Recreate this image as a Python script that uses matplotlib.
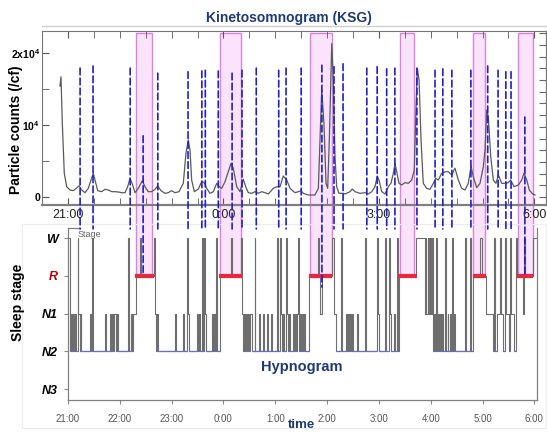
import matplotlib
matplotlib.use("Agg")
import matplotlib.pyplot as plt
from matplotlib.patches import Rectangle, ConnectionPatch
from matplotlib.lines import Line2D
from matplotlib.transforms import blended_transform_factory
from matplotlib.ticker import FixedLocator

plt.rcParams['font.family'] = ['Liberation Sans', 'DejaVu Sans']
plt.rcParams['mathtext.default'] = 'regular'

# ---- data (time in minutes after 21:00) ----
ksg_min = [-9.3, -8.1, -6.6, -4.3, -1.5, 2.3, 6.1, 10.1, 12.7, 15.9, 19.7, 23.5, 27.4, 29.3,
           31.3, 34.4, 39.0, 42.8, 46.7, 50.6, 54.4, 58.2, 62.2, 66.0, 69.1, 71.8, 74.5, 77.6,
           81.4, 86.0, 89.2, 93.0, 96.9, 100.7, 103.9, 107.7, 112.3, 116.1, 120.1, 123.9, 128.5,
           133.5, 136.6, 139.3, 141.3, 143.2, 146.3, 150.9, 154.8, 157.8, 160.6, 164.4, 168.3,
           172.2, 174.9, 178.0, 181.8, 185.6, 188.8, 191.4, 195.4, 199.2, 203.0, 205.8, 208.8,
           212.7, 216.5, 220.4, 224.3, 228.1, 232.0, 237.7, 241.7, 245.5, 249.3, 253.3, 257.1,
           262.9, 266.7, 269.8, 272.5, 278.3, 286.0, 289.9, 291.8, 293.8, 296.4, 298.8, 300.7,
           302.6, 305.4, 307.2, 309.2, 311.1, 313.8, 318.8, 320.8, 326.6, 329.2, 332.3, 338.1,
           343.9, 347.7, 351.7, 355.5, 358.2, 360.1, 363.3, 367.1, 370.9, 374.0, 376.7, 378.7,
           380.6, 383.3, 386.4, 390.2, 394.1, 398.0, 401.0, 403.0, 404.5, 406.5, 408.8, 411.4,
           415.4, 419.2, 423.0, 425.8, 428.8, 432.7, 436.6, 440.4, 444.3, 448.1, 452.0, 455.9,
           459.7, 463.5, 466.7, 469.3, 473.3, 477.1, 480.9, 482.9, 484.9, 486.7, 489.5, 492.5,
           495.6, 498.3, 502.2, 506.0, 509.9, 512.6, 516.5, 521.5, 525.4, 528.0, 531.2, 534.2,
           538.1, 540.8]
ksg_counts = [15400, 16700, 10300, 3300, 1430, 970, 880, 1250, 1570, 970, 600, 1200, 2640, 3290,
              2360, 880, 740, 1070, 970, 740, 740, 700, 600, 600, 1430, 2600, 1800, 600,
              1200, 2260, 1430, 740, 740, 1070, 1530, 880, 510, 600, 880, 600, 740,
              1900, 6070, 7920, 6530, 2360, 740, 1100, 2130, 2000, 1200, 510, 740,
              1900, 1430, 1200, 2130, 3510, 4680, 4000, 1430, 740, 2460, 1430, 600,
              510, 740, 510, 740, 600, 420, 1200, 1430, 1430, 2920, 2360, 1200,
              600, 740, 880, 510, 280, 280, 1200, 7920, 14900, 10200, 1900, 1200,
              7920, 21300, 16250, 5600, 1430, 510, 510, 420, 740, 1110, 740, 510,
              600, 420, 740, 1430, 2920, 2360, 740, 420, 1430, 1900, 3290, 4680,
              3510, 1900, 1670, 2000, 1900, 2360, 3750, 12540, 17870, 16250, 7920, 1900,
              1200, 1070, 1900, 2600, 2360, 3290, 3510, 3510, 3060, 4000, 2360, 1200,
              970, 1900, 4300, 2800, 1300, 1900, 4210, 6530, 12080, 11150, 5600, 2360,
              1900, 3060, 1900, 1900, 2000, 2360, 1430, 1670, 2360, 3290, 2360, 970,
              420, 280]

arousal_min = [14, 29, 72, 87, 104, 139, 155, 159, 174, 190, 201.5, 218, 244, 252.5, 270,
               294, 308, 318.5, 346, 358, 369, 378.5, 404, 425, 434, 444.5, 466.5, 486,
               498, 507, 513, 529]
arousal_top = [17900, 18200, 17900, 8500, 17200, 17400, 17500, 17600, 17500, 17200, 17600,
               17900, 17600, 17900, 17900, 18300, 18100, 18500, 17900, 18100, 17800, 17900,
               17900, 17600, 17800, 17600, 17600, 18200, 17600, 17400, 17400, 11100]
arousal_end = [4.24, 4.24, 4.24, 3.0, 4.24, 4.24, 4.24, 4.24, 4.24, 4.24, 4.24, 4.24, 4.24,
               4.24, 4.24, 2.7, 4.24, 4.24, 4.24, 4.24, 4.24, 4.24, 4.24, 4.24, 4.24, 4.24,
               4.24, 4.24, 4.24, 4.24, 4.24, 3.0]

shade_start = [79, 176, 280, 384, 469, 521]
shade_end = [97.5, 200, 305.5, 401, 483, 538.5]
rem_start = [77.5, 175, 279, 382, 469, 520]
rem_end = [99.5, 201.5, 305.5, 404, 484, 538.5]

hyp_min = [0, 2, 3, 4.5, 6, 7, 8, 9, 11, 12, 13.5, 14.5, 15.5, 25.5, 26.5, 28, 29, 43, 44,
           48.5, 50, 51, 52, 53, 55, 57, 58, 69.5, 70.5, 73, 74, 75.5, 79, 83.5, 84.5, 99.5,
           101, 102, 103, 104, 124, 125, 133, 134, 138, 139.5, 140.5, 149.5, 150.5, 151.5,
           153, 155, 156, 157.5, 158.5, 160, 167, 168, 169, 170, 171.5, 172.5, 176, 189, 190,
           200, 201.5, 202.5, 204, 205, 206, 207, 208.5, 209.5, 211, 212.5, 216, 217, 221,
           222, 226, 227, 230.5, 231.5, 235.5, 236.5, 242.5, 243.5, 245.5, 246.5, 248, 249.5,
           250.5, 252.5, 253.5, 254.5, 256, 257, 260.5, 261.5, 263, 264, 265, 266.5, 267.5,
           268.5, 270, 271, 272, 273.5, 274.5, 279.5, 290, 291, 292, 294, 305.5, 307.5, 310.5,
           316, 317.5, 322, 323, 324, 325.5, 326.5, 327.5, 329, 330, 334.5, 336, 344, 345, 358,
           359, 360.5, 367, 368, 371.5, 373, 374, 377.5, 378.5, 381, 382, 383, 403, 413, 414,
           415, 417, 418, 419, 420, 421.5, 422.5, 423.5, 425, 426, 427, 428.5, 429.5, 431,
           432, 433, 434, 436.5, 437.5, 439.5, 440.5, 442, 443, 444.5, 445.5, 446.5, 448,
           459.5, 461, 465.5, 466.5, 469, 477.5, 479.5, 484, 492, 493, 494.5, 496.5, 500,
           501.5, 503.5, 506, 507, 510.5, 512, 513, 516.5, 519, 520, 527, 528, 529, 538.5]
hyp_stage = ['W', 'N2', 'N1', 'N2', 'N1', 'N2', 'N1', 'N2', 'W', 'N1', 'N2', 'N1', 'N2', 'N1',
             'N2', 'W', 'N2', 'N1', 'N2', 'N1', 'N2', 'N1', 'N2', 'N1', 'N2', 'N1', 'N2', 'W',
             'N2', 'N1', 'N2', 'N1', 'R', 'W', 'R', 'W', 'N1', 'N2', 'N1', 'N2', 'N1', 'N2',
             'N1', 'N2', 'W', 'N1', 'N2', 'N1', 'N2', 'N1', 'N2', 'W', 'N2', 'W', 'N1', 'N2',
             'N1', 'N2', 'N1', 'N2', 'W', 'N2', 'R', 'W', 'R', 'W', 'N1', 'N2', 'N1', 'N2',
             'N1', 'N2', 'N1', 'N2', 'N1', 'N2', 'W', 'N2', 'N1', 'N2', 'N1', 'N2', 'N1', 'N2',
             'N1', 'N2', 'W', 'N2', 'W', 'N1', 'N2', 'N1', 'N2', 'W', 'N1', 'N2', 'N1', 'N2',
             'N1', 'N2', 'N1', 'N2', 'N1', 'W', 'N2', 'N1', 'N2', 'N1', 'N2', 'N1', 'N2', 'R',
             'W', 'R', 'N1', 'R', 'W', 'N1', 'N2', 'W', 'N2', 'N1', 'N2', 'N1', 'N2', 'N1',
             'N2', 'N1', 'N2', 'N1', 'N2', 'W', 'N2', 'W', 'N1', 'N2', 'W', 'N2', 'W', 'N1',
             'N2', 'N1', 'N2', 'W', 'N2', 'R', 'W', 'N1', 'W', 'N1', 'W', 'N1', 'W', 'N1', 'W',
             'N2', 'N1', 'N2', 'W', 'N2', 'N1', 'N2', 'N1', 'N2', 'N1', 'N2', 'W', 'N2', 'N1',
             'N2', 'N1', 'N2', 'W', 'N2', 'N1', 'N2', 'W', 'N2', 'W', 'N2', 'R', 'W', 'R', 'N1',
             'N2', 'W', 'N2', 'N1', 'W', 'N1', 'N2', 'W', 'N1', 'N2', 'W', 'N1', 'N2', 'W', 'R',
             'N1', 'W', 'R', 'W']
hyp_end = 543
stage_names = ['N3', 'N2', 'N1', 'R', 'W']

top_ticks = [0, 180, 360, 540]
top_labels = ['21:00', '0:00', '3:00', '6:00']
bottom_ticks = [0, 60, 120, 180, 240, 300, 360, 420, 480, 540]
bottom_labels = ['21:00', '22:00', '23:00', '0:00', '1:00', '2:00', '3:00', '4:00', '5:00', '6:00']

W, H = 547, 432
navy = '#1f3b73'

fig = plt.figure(figsize=(W / 100, H / 100), dpi=100)


def px_box(x0, y0, x1, y1):
    return [x0 / W, 1 - y1 / H, (x1 - x0) / W, (y1 - y0) / H]


# ---- KSG panel ----
ax1 = fig.add_axes(px_box(42, 31, 546, 205))
ax1.set_facecolor('none')
ax1.plot(ksg_min, ksg_counts, color='#5a5a5a', lw=0.9)
ax1.set_xlim(-30.1, 553.5)
ax1.set_ylim(-1110, 23060)
ax1.xaxis.set_major_locator(FixedLocator(top_ticks))
ax1.set_xticklabels(top_labels)
ax1.xaxis.set_minor_locator(FixedLocator(list(range(-30, 560, 30))))
ax1.yaxis.set_major_locator(FixedLocator([0, 10000, 20000]))
ax1.set_yticklabels(['0', '10$^4$', '2x10$^4$'], fontweight='bold')
ax1.yaxis.set_minor_locator(FixedLocator([5000, 15000]))
ax1.tick_params(axis='x', which='both', direction='in', top=True, length=5, color='#555',
                labelsize=9, labelcolor='#222', pad=3)
ax1.tick_params(axis='y', which='both', direction='in', length=5, color='#555',
                labelsize=7.5, pad=1.5)
for s in ['top', 'left', 'right']:
    ax1.spines[s].set_color('#777')
    ax1.spines[s].set_linewidth(0.8)
ax1.spines['bottom'].set_color('#808080')
ax1.spines['bottom'].set_linewidth(1.6)
ax1r = ax1.secondary_yaxis('right')
ax1r.yaxis.set_major_locator(FixedLocator([i * 1625 for i in range(-1, 15)]))
ax1r.tick_params(direction='in', length=5, color='#666', labelright=False)
ax1r.spines['right'].set_color('#777')

# ---- Hypnogram panel ----
ax2 = fig.add_axes(px_box(68, 228, 537, 400))
ax2.set_facecolor('none')
lev = [stage_names.index(s) for s in hyp_stage]
t = hyp_min + [hyp_end]
lv = lev + [lev[-1]]
ax2.step(t, lv, where='post', color='#6e6e6e', lw=0.8)
n2 = stage_names.index('N2')
for i in range(len(lev)):
    if lev[i] == n2:
        ax2.hlines(n2, t[i], t[i + 1], color='#6b6be0', lw=0.9, zorder=3)
for s, e in zip(rem_start, rem_end):
    ax2.hlines(stage_names.index('R'), s, e, color='#e8283f', lw=3, zorder=4)
ax2.set_xlim(0, 543)
ax2.set_ylim(-0.29, 4.265)
ax2.set_xticks(bottom_ticks)
ax2.set_xticklabels(bottom_labels)
ax2.set_yticks(range(5))
ax2.set_yticklabels(stage_names, fontweight='bold', fontstyle='italic', fontsize=9)
for lab in ax2.get_yticklabels():
    lab.set_color('#c00000' if lab.get_text() == 'R' else 'black')
ax2.tick_params(axis='x', length=3, color='#888', labelsize=7, labelcolor='#555', pad=7)
ax2.tick_params(axis='y', length=3, color='#888', pad=4)
ax2.spines['top'].set_visible(False)
for s in ['left', 'bottom', 'right']:
    ax2.spines[s].set_color('#808080')
    ax2.spines[s].set_linewidth(0.9)
ax2.plot([0, 0.025], [1, 1], transform=ax2.transAxes, color='#808080', lw=0.9, clip_on=False)
ax2.text(0.02, 0.962, 'Stage', transform=ax2.transAxes, fontsize=6.5, color='#666',
         ha='left', va='center')

# ---- overlays spanning both panels ----
inv = fig.transFigure.inverted()
y_top = inv.transform(ax1.transData.transform((0, 22800)))[1]
y_bot = inv.transform(ax2.transData.transform((0, stage_names.index('R'))))[1]
blend = blended_transform_factory(ax1.transData, fig.transFigure)
for s, e in zip(shade_start, shade_end):
    fig.add_artist(Rectangle((s, y_bot), e - s, y_top - y_bot, transform=blend,
                             facecolor='#fbe3fb', edgecolor='#e07fe0', lw=1, zorder=-1))

for tm, tp, en in zip(arousal_min, arousal_top, arousal_end):
    con = ConnectionPatch(xyA=(tm, tp), coordsA=ax1.transData, xyB=(tm, en),
                          coordsB=ax2.transData, color='#1f1fd0', lw=1.2,
                          linestyle=(0, (4, 2)), zorder=3)
    fig.add_artist(con)

# ---- texts / frame ----
fig.add_artist(Line2D([42 / W, 1], [1 - 26 / H] * 2, transform=fig.transFigure,
                      color='#cfcfcf', lw=1))
fig.add_artist(Rectangle((22 / W, 1 - 428 / H), (546 - 22) / W, (428 - 224) / H,
                         transform=fig.transFigure, fill=False, ec='#ececec', lw=0.8))
fig.text(289 / W, 1 - 18 / H, 'Kinetosomnogram (KSG)', color=navy, fontsize=10,
         fontweight='bold', ha='center', va='center')
fig.text(16 / W, 1 - 130 / H, 'Particle counts (/cf)', fontsize=10, fontweight='bold',
         rotation=90, ha='center', va='center')
fig.text(18 / W, 1 - 302 / H, 'Sleep stage', fontsize=10, fontweight='bold',
         rotation=90, ha='center', va='center')
fig.text(302 / W, 1 - 367 / H, 'Hypnogram', color=navy, fontsize=10.5,
         fontweight='bold', ha='center', va='center')
fig.text(301 / W, 1 - 431 / H, 'time', color=navy, fontsize=9.5,
         fontweight='bold', ha='center', va='bottom')

fig.savefig('out.png', dpi=100)
